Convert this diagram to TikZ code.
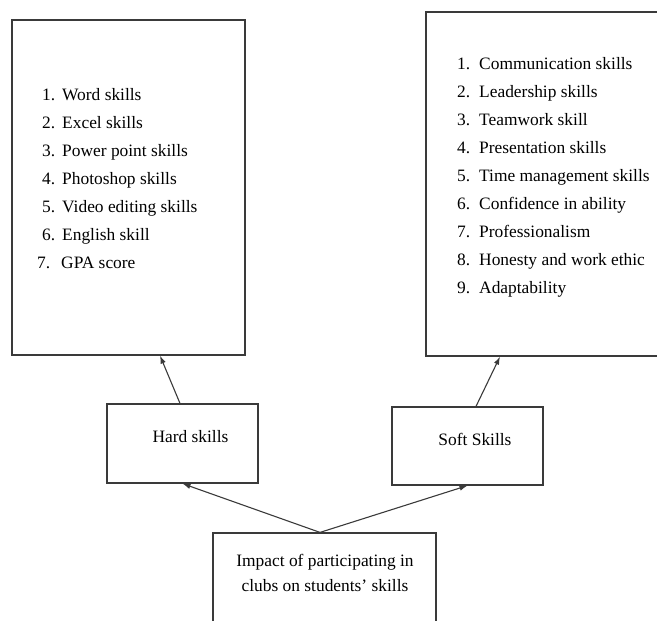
\documentclass[tikz,border=0pt]{standalone}
\usepackage{fontspec}
\setmainfont{Liberation Serif}
\usetikzlibrary{arrows.meta}
\definecolor{linegray}{HTML}{3A3A3A}
\begin{document}
\begin{tikzpicture}[x=1pt,y=-1pt,
  box/.style={draw=linegray,line width=1.2pt,inner sep=0pt},
  txt/.style={font=\fontsize{17.4}{20}\selectfont,inner sep=0pt,anchor=base west},
  ctxt/.style={font=\fontsize{17.4}{20}\selectfont,inner sep=0pt,anchor=base},
  arr/.style={draw=linegray,line width=1.1pt,-{Latex[length=8pt,width=5.5pt]}}]
\useasboundingbox (0,0) rectangle (657,621);
\clip (0,0) rectangle (657,621);
% boxes
\node[box,minimum width=233pt,minimum height=335pt] (hardlist) at (128.5,187.5) {};
\node[box,minimum width=240pt,minimum height=344pt] (softlist) at (546,184) {};
\node[box,minimum width=151pt,minimum height=79pt] (hard) at (182.5,443.5) {};
\node[box,minimum width=151pt,minimum height=78pt] (soft) at (467.5,446) {};
\node[box,minimum width=223pt,minimum height=110pt] (impact) at (324.5,588) {};
% hard list
\foreach \n/\t [count=\i from 0] in {1./Word skills,2./Excel skills,3./Power point skills,4./Photoshop skills,5./Video editing skills,6./English skill}{
  \node[txt] (hn\i) at (42,100+28*\i) {\n};
  \node[txt] (ht\i) at (62,100+28*\i) {\t};
}
\node[txt] (hn6) at (37,268) {7.};
\node[txt] (ht6) at (61,268) {GPA score};
% soft list
\foreach \n/\t [count=\i from 0] in {1./Communication skills,2./Leadership skills,3./Teamwork skill,4./Presentation skills,5./Time management skills,6./Confidence in ability,7./Professionalism,8./Honesty and work ethic,9./Adaptability}{
  \node[txt] (sn\i) at (457,69+28*\i) {\n};
  \node[txt] (st\i) at (479,69+28*\i) {\t};
}
% labels
\node[ctxt] (hardlbl) at (190.5,442) {Hard skills};
\node[ctxt] (softlbl) at (475,445) {Soft Skills};
\node[ctxt] (implbl1) at (325,566) {Impact of participating in};
\node[ctxt] (implbl2) at (325,591) {clubs on students’ skills};
% arrows
\draw[arr] ([xshift=-2.5pt]hard.north) -- ([xshift=31.5pt]hardlist.south);
\draw[arr] ([xshift=8.5pt]soft.north) -- ([xshift=-46pt]softlist.south);
\draw[arr] ([xshift=-4.5pt]impact.north) -- (hard.south);
\draw[arr] ([xshift=-4.5pt]impact.north) -- (soft.south);
\end{tikzpicture}
\end{document}
